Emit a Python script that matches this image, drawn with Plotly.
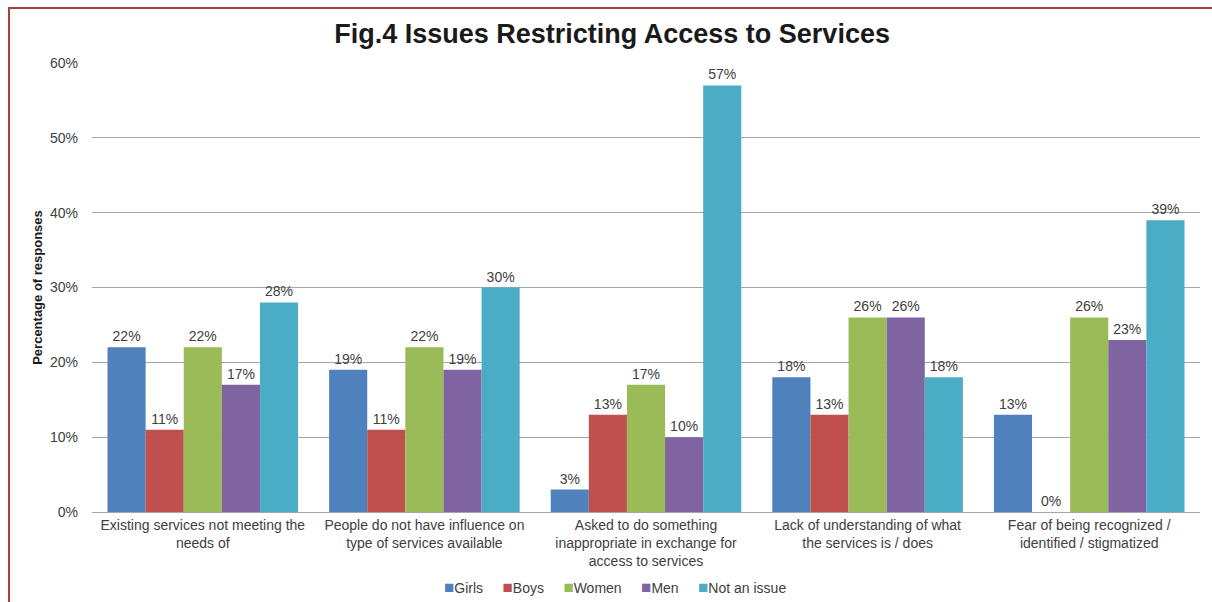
import plotly.graph_objects as go

categories = [
    "Existing services not meeting the<br>needs of",
    "People do not have influence on<br>type of services available",
    "Asked to do something<br>inappropriate in exchange for<br>access to services",
    "Lack of understanding of what<br>the services is / does",
    "Fear of being recognized /<br>identified / stigmatized",
]
girls = [22, 19, 3, 18, 13]
boys = [11, 11, 13, 13, 0]
women = [22, 22, 17, 26, 26]
men = [17, 19, 10, 26, 23]
not_an_issue = [28, 30, 57, 18, 39]

series = [
    ("Girls", girls, "#4F81BD"),
    ("Boys", boys, "#C0504D"),
    ("Women", women, "#9BBB59"),
    ("Men", men, "#8064A2"),
    ("Not an issue", not_an_issue, "#4BACC6"),
]

FONT = "Liberation Sans, Arial, sans-serif"
TEXT = "#404040"

fig = go.Figure()
for name, vals, color in series:
    fig.add_trace(go.Bar(
        name=name,
        x=categories,
        y=vals,
        marker=dict(color=color, line=dict(width=0)),
        text=[f"{v}%" for v in vals],
        textposition="outside",
        cliponaxis=False,
        textfont=dict(family=FONT, size=14, color=TEXT),
        showlegend=False,
    ))

# compact legend row: coloured square glyph followed by the series name
gap = "\u00a0" * 5
legend_text = gap.join(
    f"<span style='color:{color};font-size:17px'>\u25a0</span>{name}"
    for name, _, color in series
)
fig.add_annotation(
    text=legend_text,
    xref="paper", yref="paper",
    x=(615 - 92) / 1108, xanchor="center",
    y=(512 - 587) / 449, yanchor="middle",
    showarrow=False,
    font=dict(family=FONT, size=14, color=TEXT),
)

fig.update_layout(
    width=1212,
    height=602,
    margin=dict(l=92, r=12, t=63, b=90),
    paper_bgcolor="white",
    plot_bgcolor="white",
    barmode="group",
    bargap=0.14,
    bargroupgap=0,
    font=dict(family=FONT, size=14, color=TEXT),
    title=dict(
        text="<b>Fig.4 Issues Restricting Access to Services</b>",
        x=0.505, xanchor="center", y=0.945, yanchor="middle",
        font=dict(family=FONT, size=27, color="#1a1a1a"),
    ),
    showlegend=False,
)

fig.update_yaxes(
    range=[0, 60],
    dtick=10,
    ticksuffix="%",
    showgrid=True,
    gridcolor="#A6A6A6",
    gridwidth=1,
    zeroline=False,
    showline=False,
    tickfont=dict(family=FONT, size=14, color=TEXT),
    ticklabelstandoff=13,
    automargin=False,
    title=dict(
        text="<b>Percentage of responses</b>",
        font=dict(family=FONT, size=13, color="#1a1a1a"),
        standoff=4,
    ),
)
fig.update_xaxes(
    showline=True,
    linecolor="#A6A6A6",
    linewidth=1,
    ticks="",
    tickfont=dict(family=FONT, size=14, color=TEXT),
    tickangle=0,
    automargin=False,
)

# outer chart frame
fig.add_shape(
    type="rect", xref="paper", yref="paper",
    x0=(9 - 92) / 1108, x1=(1225 - 92) / 1108,
    y0=(512 - 615) / 449, y1=(512 - 8) / 449,
    line=dict(color="#A8413F", width=2),
    fillcolor="rgba(0,0,0,0)",
    layer="below",
)

fig.write_html("out.html")
